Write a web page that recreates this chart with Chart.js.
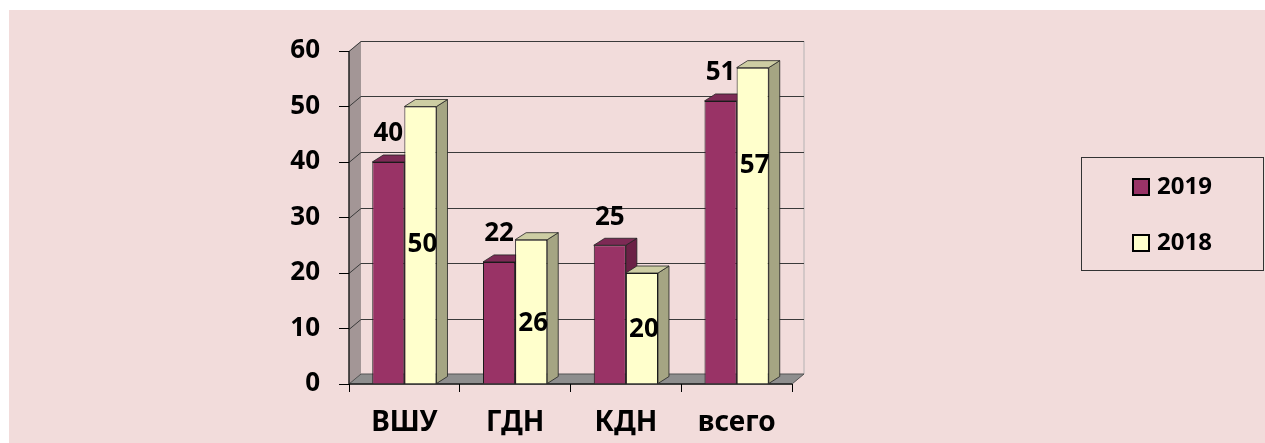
<!DOCTYPE html>
<html>
<head>
<meta charset="utf-8">
<script src="https://cdn.jsdelivr.net/npm/chart.js@4.4.0/dist/chart.umd.min.js"></script>
<style>
  body { margin: 0; background: #fff; }
  #wrap { width: 1265px; height: 443px; position: relative; }
</style>
</head>
<body>
<div id="wrap"><canvas id="chart"></canvas></div>
<script>
const categories = ["ВШУ", "ГДН", "КДН", "всего"];
const values2019 = [40, 22, 25, 51];
const values2018 = [50, 26, 20, 57];
const seriesNames = ["2019", "2018"];
const yTicks = [0, 10, 20, 30, 40, 50, 60];

const FONT = "'Noto Sans', 'Open Sans', 'DejaVu Sans', sans-serif";
const DX = 11, DY = -7;   // bar depth
const WX = 12, WY = -10;  // wall / floor depth

// where the 2018 labels sit inside the bar (fraction down from the top), like the original
const label2018Drop = [0.5, 0.58, 0.51, 0.31];

function poly(ctx, pts, fill, stroke, lw) {
  ctx.beginPath();
  ctx.moveTo(pts[0][0], pts[0][1]);
  for (let i = 1; i < pts.length; i++) ctx.lineTo(pts[i][0], pts[i][1]);
  ctx.closePath();
  if (fill) { ctx.fillStyle = fill; ctx.fill(); }
  if (stroke) { ctx.strokeStyle = stroke; ctx.lineWidth = lw || 1; ctx.stroke(); }
}

// pink background, left wall, floor and back-wall gridlines
const wallsPlugin = {
  id: "walls",
  beforeDraw(chart) {
    const { ctx, chartArea: a, scales } = chart;
    ctx.save();
    ctx.fillStyle = "#ffffff";
    ctx.fillRect(0, 0, chart.width, chart.height);
    ctx.fillStyle = "#f2dcdb";
    ctx.fillRect(9, 10, chart.width - 9, chart.height - 10);

    const L = a.left, R = a.right, T = a.top, B = a.bottom;
    // left wall
    poly(ctx, [[L, T], [L + WX, T + WY], [L + WX, B + WY], [L, B]], "#a39696", null);
    // back wall edges
    ctx.strokeStyle = "#c8c0c0";
    ctx.lineWidth = 1.5;
    ctx.beginPath();
    ctx.moveTo(R + WX, T + WY); ctx.lineTo(R + WX, B + WY);
    ctx.stroke();
    // gridlines
    ctx.strokeStyle = "#3a3a3a";
    ctx.lineWidth = 1;
    yTicks.forEach(v => {
      const y = Math.round(scales.y.getPixelForValue(v)) + 0.5;
      ctx.beginPath();
      ctx.moveTo(L, y);
      ctx.lineTo(L + WX, y + WY);
      ctx.lineTo(R + WX, y + WY);
      ctx.stroke();
    });
    // floor
    poly(ctx, [[L, B], [R, B], [R + WX, B + WY], [L + WX, B + WY]], "#8e8e8e", "#555", 1);
    // front axis lines
    ctx.strokeStyle = "#222";
    ctx.lineWidth = 1.5;
    ctx.beginPath();
    ctx.moveTo(L, T); ctx.lineTo(L, B); ctx.lineTo(R, B);
    ctx.stroke();
    ctx.restore();
  }
};

// side and top faces of the bars, value labels, legend box
const barDepthPlugin = {
  id: "barDepth",
  beforeDatasetsDraw(chart) {
    const ctx = chart.ctx;
    ctx.save();
    chart.data.datasets.forEach((ds, di) => {
      chart.getDatasetMeta(di).data.forEach(bar => {
        const { x, y, base, width } = bar.getProps(["x", "y", "base", "width"], true);
        const l = x - width / 2, r = x + width / 2;
        poly(ctx, [[r, y], [r + DX, y + DY], [r + DX, base + DY], [r, base]], ds.sideColor, "#222", 0.8);
        poly(ctx, [[l, y], [l + DX, y + DY], [r + DX, y + DY], [r, y]], ds.topColor, "#222", 0.8);
      });
    });
    ctx.restore();
  },
  afterDatasetsDraw(chart) {
    const ctx = chart.ctx;
    ctx.save();
    ctx.fillStyle = "#000";
    ctx.font = "bold 26px " + FONT;
    ctx.textAlign = "center";
    ctx.textBaseline = "middle";
    chart.data.datasets.forEach((ds, di) => {
      chart.getDatasetMeta(di).data.forEach((bar, i) => {
        const { x, y, base } = bar.getProps(["x", "y", "base"], true);
        const v = ds.data[i];
        if (di === 0) {
          ctx.fillText(String(v), x, y - 28);
        } else {
          ctx.fillText(String(v), x + 2, y + (base - y) * label2018Drop[i]);
        }
      });
    });
    ctx.restore();
  },
  afterDraw(chart) {
    const ctx = chart.ctx;
    ctx.save();
    ctx.strokeStyle = "#333";
    ctx.lineWidth = 1;
    ctx.strokeRect(1081.5, 157.5, 182, 113);
    ctx.font = "bold 24px " + FONT;
    ctx.textBaseline = "middle";
    ctx.textAlign = "left";
    chart.data.datasets.forEach((ds, di) => {
      const cy = 187 + di * 56;
      ctx.fillStyle = ds.backgroundColor;
      ctx.fillRect(1133, cy - 8, 16, 16);
      ctx.strokeStyle = "#000";
      ctx.lineWidth = 2;
      ctx.strokeRect(1133, cy - 8, 16, 16);
      ctx.fillStyle = "#000";
      ctx.fillText(ds.label, 1157, cy);
    });
    ctx.restore();
  }
};

new Chart(document.getElementById("chart"), {
  type: "bar",
  data: {
    labels: categories,
    datasets: [
      {
        label: seriesNames[0],
        data: values2019,
        backgroundColor: "#993366",
        sideColor: "#6b2146",
        topColor: "#7d2a55",
        borderColor: "#1a1a1a",
        borderWidth: 1,
      },
      {
        label: seriesNames[1],
        data: values2018,
        backgroundColor: "#ffffcc",
        sideColor: "#a5a583",
        topColor: "#cdcda3",
        borderColor: "#1a1a1a",
        borderWidth: 1,
      },
    ],
  },
  options: {
    responsive: true,
    maintainAspectRatio: false,
    animation: false,
    layout: { padding: { left: 0, top: 51, right: 473, bottom: 0 } },
    datasets: { bar: { categoryPercentage: 0.58, barPercentage: 1 } },
    plugins: { legend: { display: false }, tooltip: { enabled: false } },
    scales: {
      x: {
        afterFit: s => { s.height = 59; },
        border: { display: false },
        grid: { drawOnChartArea: false, drawTicks: true, tickLength: 8, color: "#000", offset: true },
        ticks: { color: "#000", padding: 14, font: { family: FONT, size: 28, weight: "bold" } },
      },
      y: {
        min: 0,
        max: 60,
        afterBuildTicks: s => { s.ticks = yTicks.map(v => ({ value: v })); },
        afterFit: s => { s.width = 349; },
        border: { display: false },
        grid: { drawOnChartArea: false, drawTicks: true, tickLength: 10, color: "#000" },
        ticks: { color: "#000", padding: 19, font: { family: FONT, size: 26, weight: "bold" } },
      },
    },
  },
  plugins: [wallsPlugin, barDepthPlugin],
});
</script>
</body>
</html>
